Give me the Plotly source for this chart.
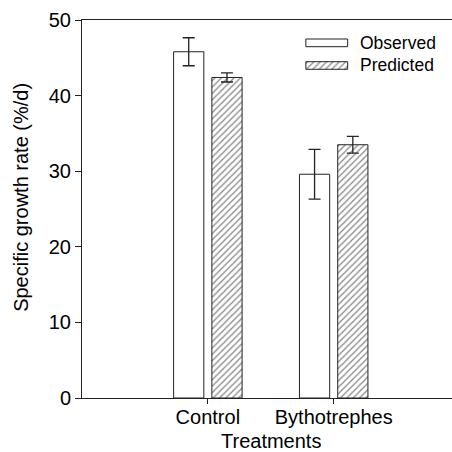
import plotly.graph_objects as go

categories = ["Control", "Bythotrephes"]
observed = [45.8, 29.6]
observed_err = [1.85, 3.3]
predicted = [42.4, 33.5]
predicted_err = [0.6, 1.1]
y_ticks = [0, 10, 20, 30, 40, 50]
series_names = ["Observed", "Predicted"]
x_title = "Treatments"
y_title = "Specific growth rate (%/d)"

FONT = "Liberation Sans, Arial, Helvetica, sans-serif"
INK = "#222222"
HATCH = dict(shape="/", fgcolor="#1a1a1a", bgcolor="white", size=4.5, solidity=0.3)

# legend layout (fractions of the plot area)
LEG_X0, LEG_X1 = 0.605, 0.718
LEG_ROWS = [(0.9294, 0.9497), (0.8696, 0.8897)]
LEG_TEXT_X = 0.745

fig = go.Figure()
fig.add_trace(go.Bar(
    x=categories, y=observed, name=series_names[0], showlegend=False,
    marker=dict(color="white", line=dict(color=INK, width=1)),
    error_y=dict(type="data", array=observed_err, color=INK, thickness=1.3, width=6),
))
fig.add_trace(go.Bar(
    x=categories, y=predicted, name=series_names[1], showlegend=False,
    marker=dict(color="white", line=dict(color=INK, width=1), pattern=HATCH),
    error_y=dict(type="data", array=predicted_err, color=INK, thickness=1.3, width=6),
))

# custom legend swatches on an overlay axis pair
for i, (y0, y1) in enumerate(LEG_ROWS):
    kw = dict(fillcolor="white")
    if i == 1:
        kw["fillpattern"] = HATCH
    fig.add_trace(go.Scatter(
        x=[LEG_X0, LEG_X1, LEG_X1, LEG_X0, LEG_X0], y=[y0, y0, y1, y1, y0],
        xaxis="x2", yaxis="y2", mode="lines", fill="toself",
        line=dict(color=INK, width=1), showlegend=False, hoverinfo="skip", **kw,
    ))
    fig.add_annotation(
        x=LEG_TEXT_X, y=(y0 + y1) / 2, xref="x2", yref="y2", text=series_names[i],
        showarrow=False, xanchor="left", yanchor="middle", font=dict(size=17.5),
    )

# axis titles
fig.add_annotation(x=-0.165, y=0.532, xref="paper", yref="paper", text=y_title,
                   textangle=-90, showarrow=False, xanchor="center", yanchor="middle",
                   font=dict(size=20))
fig.add_annotation(x=0.51, y=-0.114, xref="paper", yref="paper", text=x_title,
                   showarrow=False, xanchor="center", yanchor="middle",
                   font=dict(size=20))

fig.update_layout(
    width=452, height=452,
    margin=dict(l=82, r=0, t=20, b=54),
    paper_bgcolor="white", plot_bgcolor="white",
    font=dict(family=FONT, size=20, color="black"),
    barmode="group", bargap=0.392, bargroupgap=0.21,
    hovermode=False,
    xaxis2=dict(overlaying="x", range=[0, 1], visible=False, fixedrange=True),
    yaxis2=dict(overlaying="y", range=[0, 1], visible=False, fixedrange=True),
    xaxis=dict(
        type="category", categoryorder="array", categoryarray=categories,
        range=[-1.0, 1.94], showline=True, linecolor=INK, linewidth=1, mirror=True,
        ticks="outside", ticklen=5, tickcolor=INK, showgrid=False, zeroline=False,
        tickfont=dict(size=20), ticklabelstandoff=-4, automargin=False,
    ),
    yaxis=dict(
        range=[0, 50], tickvals=y_ticks, showline=True, linecolor=INK, linewidth=1,
        ticks="outside", ticklen=6, tickcolor=INK, showgrid=False, zeroline=False,
        tickfont=dict(size=20), automargin=False,
    ),
)

fig.write_html("out.html", config={"displayModeBar": False, "staticPlot": True},
               post_script="document.body.style.margin='0';")
